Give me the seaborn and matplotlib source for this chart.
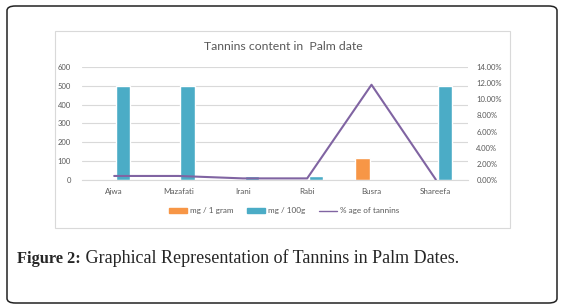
import numpy as np
import pandas as pd
import seaborn as sns
from matplotlib import pyplot as plt
from matplotlib.patches import FancyBboxPatch, Rectangle, Patch
from matplotlib.lines import Line2D

dates = ['Ajwa', 'Mazafati', 'Irani', 'Rabi', 'Busra', 'Shareefa']
mg_per_gram = [1, 1, 0, 0, 118, 2]
mg_per_100g = [500, 500, 22, 22, 0, 500]
pct_tannins = [0.5, 0.5, 0.2, 0.2, 11.8, 0.05]

ORANGE = '#F79646'
TEAL = '#4BACC6'
PURPLE = '#8064A2'
GRID = '#D9D9D9'
TXT = '#595959'

bars = pd.DataFrame({
    'date': dates * 2,
    'value': mg_per_gram + mg_per_100g,
    'series': ['mg / 1 gram'] * len(dates) + ['mg / 100g'] * len(dates),
})

sns.set_style('white')
plt.rcParams['font.family'] = ['Lato', 'DejaVu Sans']

fig = plt.figure(figsize=(5.63, 3.08), dpi=100)

# outer rounded frame
fig.patches.append(FancyBboxPatch((7 / 563, 5 / 308), 550 / 563, 297 / 308,
                                  boxstyle='round,pad=0,rounding_size=0.015',
                                  transform=fig.transFigure, fill=False,
                                  edgecolor='#222222', linewidth=1.1))
# chart area frame
fig.patches.append(Rectangle((55 / 563, (308 - 228) / 308), 455 / 563, 197 / 308,
                             transform=fig.transFigure, fill=False,
                             edgecolor=GRID, linewidth=0.8))

ax = fig.add_axes([82 / 563, (308 - 180) / 308, 386 / 563, 113 / 308])
sns.barplot(data=bars, x='date', y='value', hue='series',
            palette=[ORANGE, TEAL], saturation=1, width=0.56, gap=0.2,
            legend=False, ax=ax)
ax.set_ylim(0, 600)
ax.set_yticks(range(0, 601, 100))
ax.yaxis.grid(True, color=GRID, linewidth=0.8)
ax.set_axisbelow(True)
for s in ['top', 'left', 'right']:
    ax.spines[s].set_visible(False)
ax.spines['bottom'].set_color(GRID)
ax.set_xlabel('')
ax.set_ylabel('')
ax.tick_params(axis='x', length=0, labelsize=5.8, colors=TXT, pad=6)
ax.tick_params(axis='y', length=0, labelsize=5.5, colors=TXT, pad=8)

ax2 = ax.twinx()
sns.lineplot(x=dates, y=pct_tannins, sort=False, color=PURPLE,
             linewidth=1.5, ax=ax2)
ax2.set_ylim(0, 14)
ax2.set_yticks(range(0, 15, 2))
ax2.set_yticklabels([f'{v:.2f}%' for v in range(0, 15, 2)])
for s in ['top', 'left', 'right', 'bottom']:
    ax2.spines[s].set_visible(False)
ax2.tick_params(axis='y', length=0, labelsize=5.5, colors=TXT, pad=6)
ax.set_xlim(-0.5, len(dates) - 0.5)

fig.text(283 / 563, 1 - 47 / 308, 'Tannins content in  Palm date',
         ha='center', va='center', fontsize=8.8, color=TXT)

handles = [Patch(color=ORANGE), Patch(color=TEAL),
           Line2D([], [], color=PURPLE, linewidth=1)]
fig.legend(handles, ['mg / 1 gram', 'mg / 100g', '% age of tannins'],
           loc='center', bbox_to_anchor=(284 / 563, 1 - 211 / 308),
           ncol=3, frameon=False, fontsize=5.9, labelcolor=TXT,
           handlelength=2.2, handleheight=0.6, handletextpad=0.35,
           columnspacing=1.7)

# caption: bold label followed by regular text on the same baseline
base_y = 1 - 263 / 308
t1 = fig.text(17 / 563, base_y, 'Figure 2:', fontweight='bold',
              family='Liberation Serif', fontsize=11.8, va='baseline',
              ha='left')
bb = t1.get_window_extent(renderer=fig.canvas.get_renderer())
fig.text(bb.x1 / fig.bbox.width, base_y,
         ' Graphical Representation of Tannins in Palm Dates.',
         family='Liberation Serif', fontsize=13, va='baseline', ha='left')

fig.savefig('out.png', dpi=100)
